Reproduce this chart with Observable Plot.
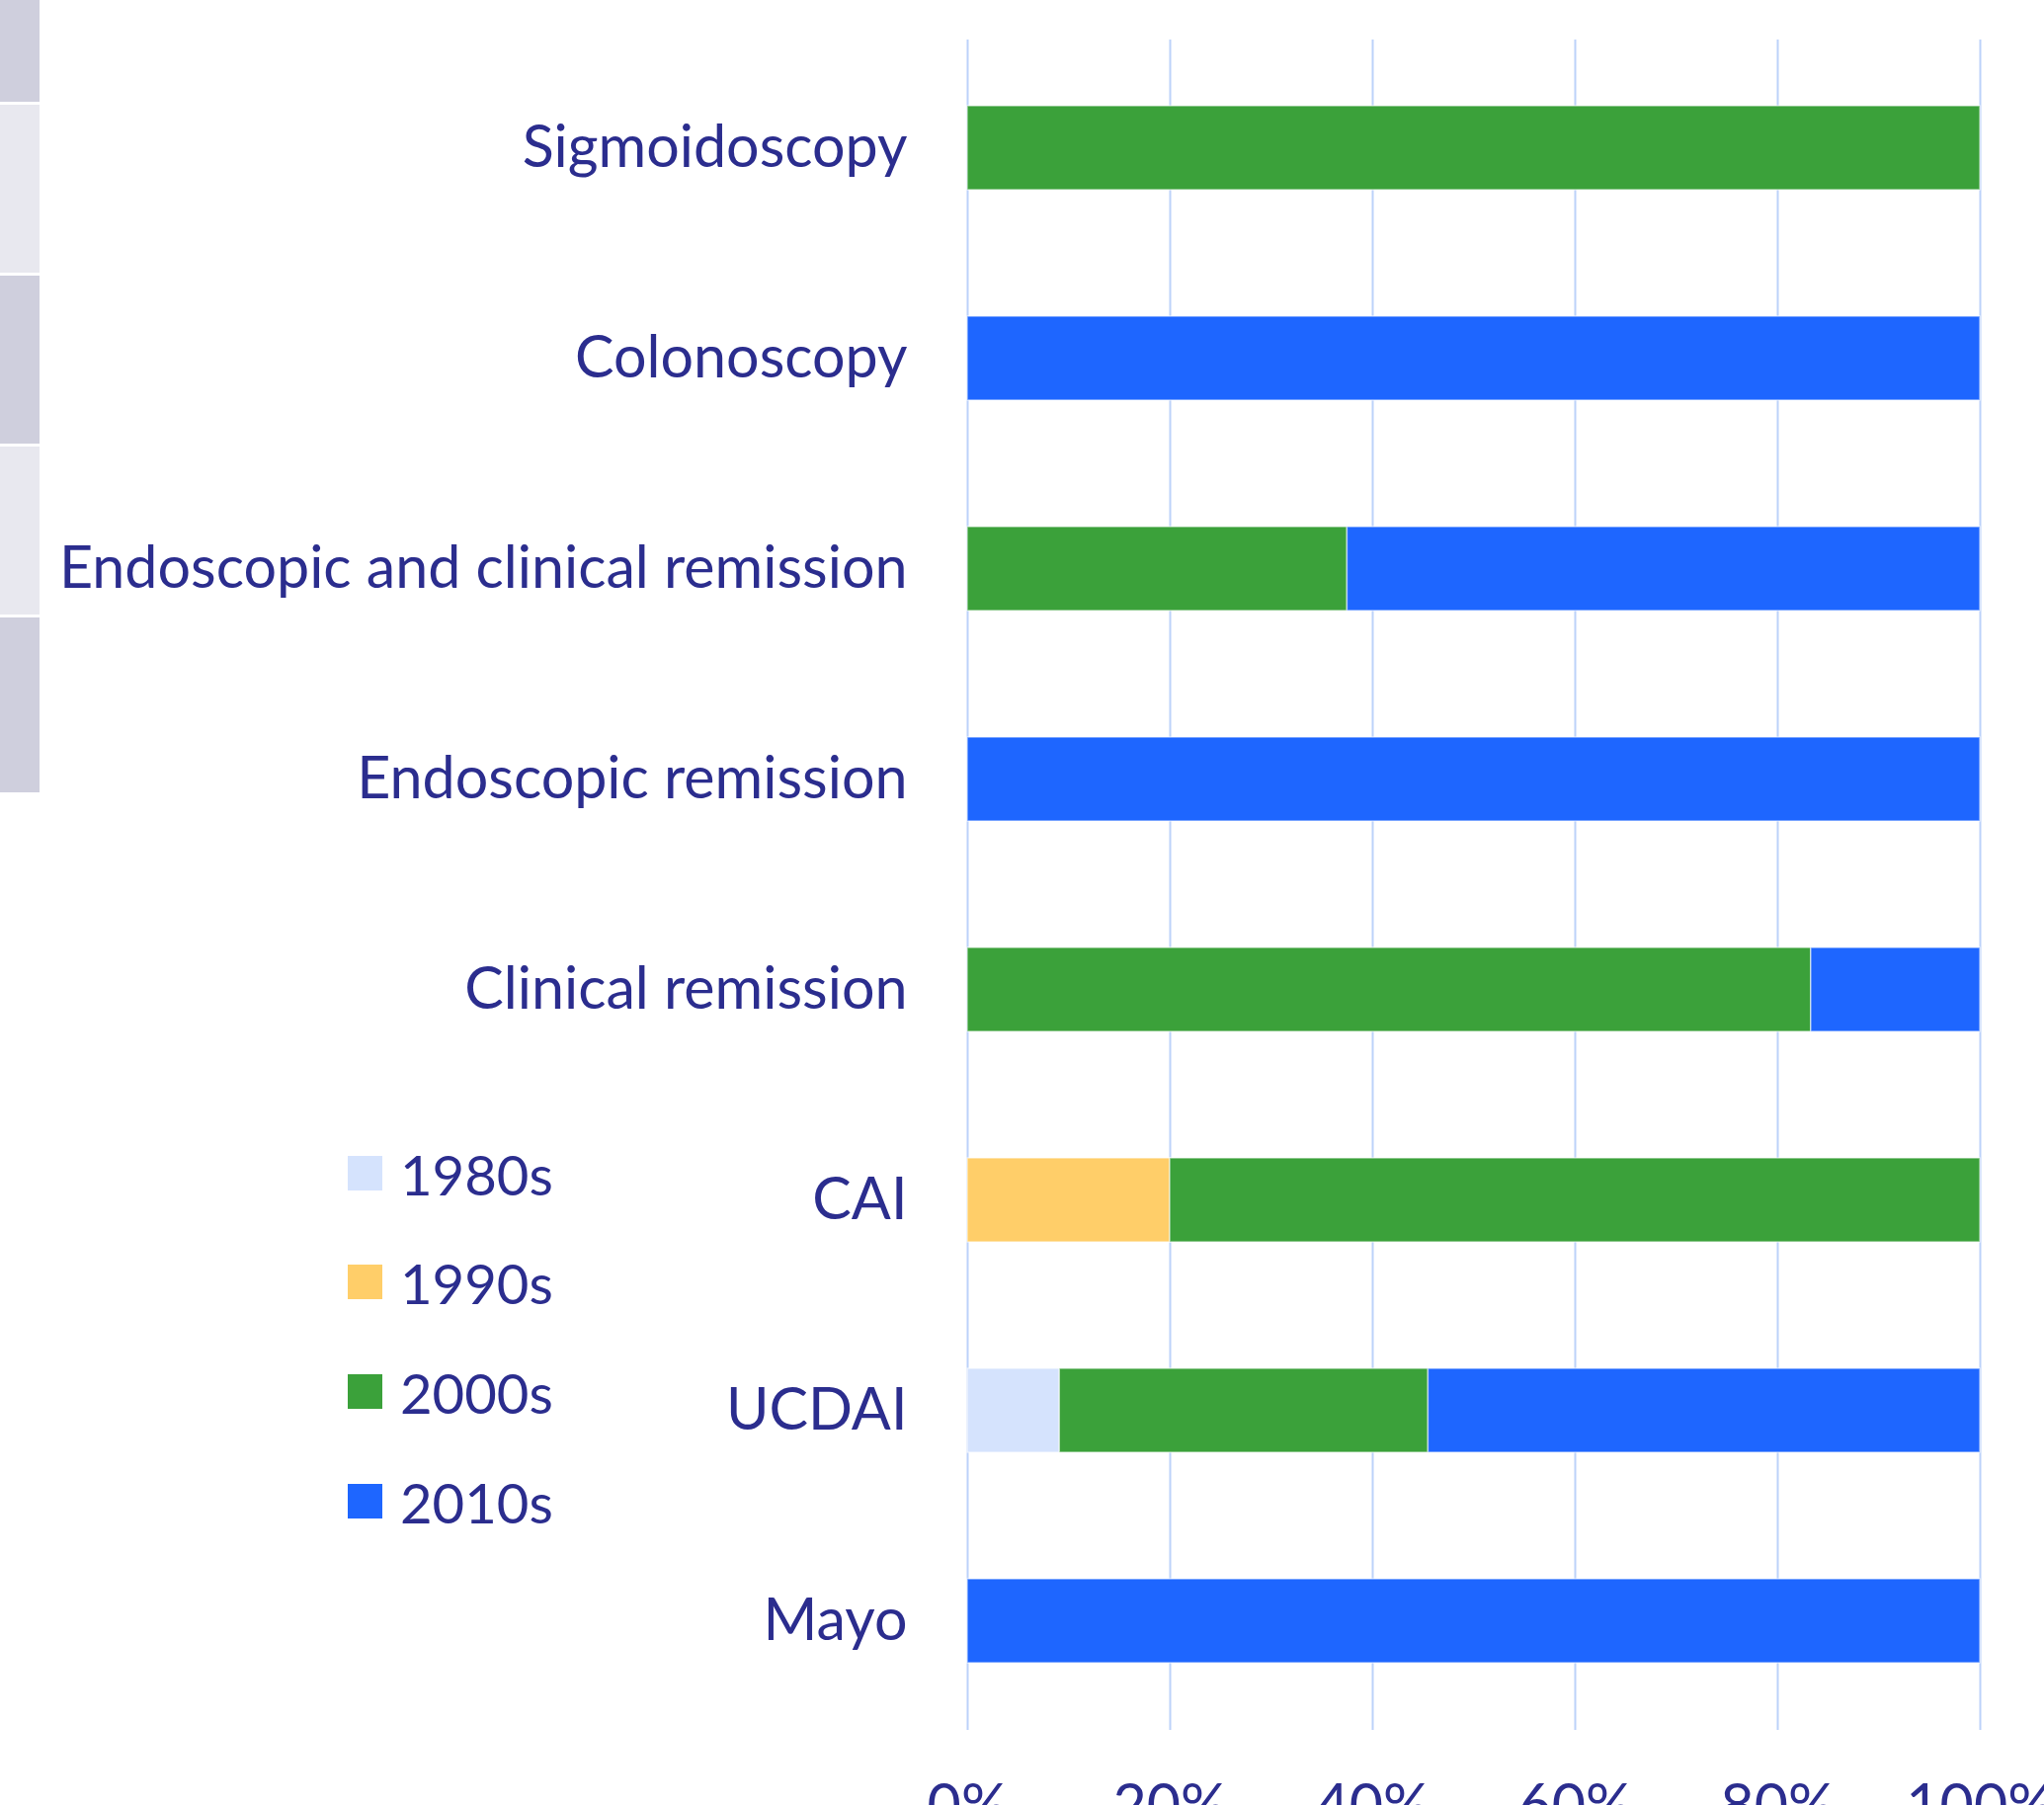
<!DOCTYPE html>
<html>
<head>
<meta charset="utf-8">
<script src="https://cdn.jsdelivr.net/npm/d3@7"></script>
<script src="https://cdn.jsdelivr.net/npm/@observablehq/plot@0.6"></script>
<style>
  html, body { margin: 0; padding: 0; background: #ffffff; }
  #wrap { position: relative; width: 2069px; height: 1827px; overflow: hidden; }
  .blk { position: absolute; left: 0; width: 40px; }
  .li { position: absolute; display: flex; align-items: center; color: #2B2D8E; white-space: nowrap; }
  .sw { width: 35px; height: 35px; margin-right: 18px; }
</style>
</head>
<body>
<div id="wrap"></div>
<script>
const categories = ["Sigmoidoscopy", "Colonoscopy", "Endoscopic and clinical remission", "Endoscopic remission", "Clinical remission", "CAI", "UCDAI", "Mayo"];
const decades = ["1980s", "1990s", "2000s", "2010s"];
const decadeColors = ["#D5E3FD", "#FFCE69", "#3BA13A", "#1E66FF"];
// share (%) per category, in decade order 1980s, 1990s, 2000s, 2010s
const share1980s = [0, 0, 0, 0, 0, 0, 9.1, 0];
const share1990s = [0, 0, 0, 0, 0, 20, 0, 0];
const share2000s = [100, 0, 37.5, 0, 83.3, 80, 36.4, 0];
const share2010s = [0, 100, 62.5, 100, 16.7, 0, 54.5, 100];
const xTicks = [0, 20, 40, 60, 80, 100];

const series = [share1980s, share1990s, share2000s, share2010s];
const rows = [];
categories.forEach((c, i) => {
  decades.forEach((d, j) => {
    if (series[j][i] > 0) rows.push({category: c, decade: d, value: series[j][i]});
  });
});

(async () => {
  const family = "Lato";
  try { await document.fonts.load(`54px ${family}`); } catch (e) {}
  const ctx = document.createElement("canvas").getContext("2d");
  ctx.font = `54px ${family}`;
  const w = ctx.measureText("Endoscopic and clinical remission").width;
  const fs = Math.round(54 * 859 / w * 10) / 10;

  const wrap = document.getElementById("wrap");
  // decorative side blocks
  const blocks = [[-2, 103, "#CFCFDD"], [106, 276, "#E8E8EF"], [279, 449, "#CFCFDD"], [452, 622, "#E8E8EF"], [625, 802, "#CFCFDD"]];
  for (const [t, b, col] of blocks) {
    const el = document.createElement("div");
    el.className = "blk";
    el.style.top = t + "px"; el.style.height = (b - t) + "px"; el.style.background = col;
    wrap.appendChild(el);
  }

  const chart = Plot.plot({
    width: 2069,
    height: 1827,
    marginTop: 40,
    marginBottom: 76,
    marginLeft: 979,
    marginRight: 65,
    style: {fontFamily: family, fontSize: fs + "px", color: "#2B2D8E", background: "transparent", overflow: "visible"},
    x: {domain: [0, 100], ticks: xTicks, tickFormat: d => d + "%", tickSize: 0, tickPadding: 54, label: null},
    y: {domain: categories, paddingInner: 0.6, paddingOuter: 0.3, tickSize: 0, tickPadding: 61, label: null},
    color: {domain: decades, range: decadeColors},
    marks: [
      Plot.ruleX(xTicks, {stroke: "#BCD2FA", strokeWidth: 2}),
      Plot.barX(rows, {x: "value", y: "category", fill: "decade", stroke: "#ffffff", strokeOpacity: 0.55, strokeWidth: 1.5, order: decades})
    ]
  });
  chart.style.position = "absolute";
  chart.style.left = "0px";
  chart.style.top = "0px";
  wrap.appendChild(chart);

  // legend
  const lfs = fs * 0.95;
  const legendY = [1188, 1298, 1409, 1520];
  decades.forEach((d, i) => {
    const item = document.createElement("div");
    item.className = "li";
    item.style.left = "352px";
    item.style.top = (legendY[i] - lfs * 0.7) + "px";
    item.style.height = (lfs * 1.4) + "px";
    item.style.fontFamily = family;
    item.style.fontSize = lfs + "px";
    const sw = document.createElement("div");
    sw.className = "sw";
    sw.style.background = decadeColors[i];
    const tx = document.createElement("span");
    tx.textContent = d;
    item.appendChild(sw); item.appendChild(tx);
    wrap.appendChild(item);
  });
})();
</script>
</body>
</html>
